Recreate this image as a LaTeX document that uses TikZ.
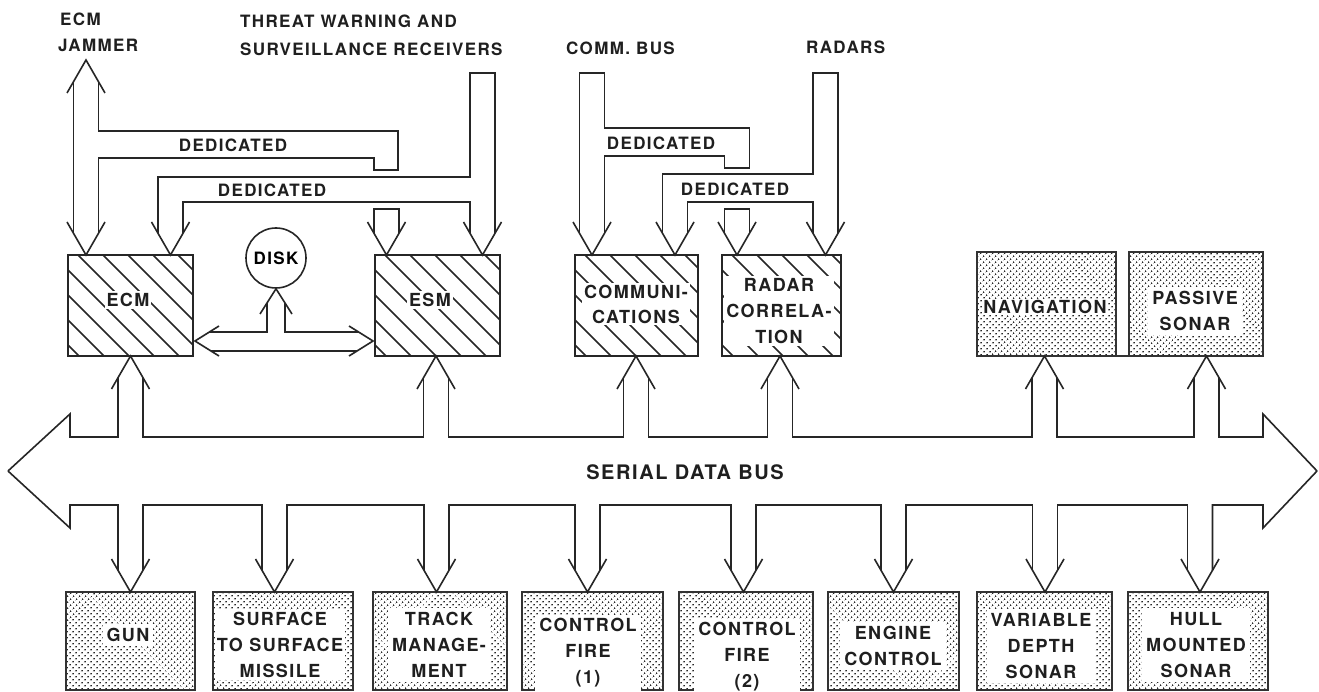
\documentclass[tikz,border=0pt]{standalone}
\usepackage{fontspec}
\usetikzlibrary{patterns.meta,calc}
\newfontfamily\heros[LetterSpace=8]{TeX Gyre Heros}
\newcommand\lf{\heros\bfseries\fontsize{17}{26}\selectfont}
\newcommand\lfbox{\heros\bfseries\fontsize{18}{26}\selectfont}
\newcommand\lfbig{\heros\bfseries\fontsize{20}{24}\selectfont}

% open V arrow heads (barb half-width 19, depth 33)
\newcommand\headup[2]{\draw[wire] ({#1-19},{#2+33}) -- (#1,#2) -- ({#1+19},{#2+33});}
\newcommand\headdown[2]{\draw[wire] ({#1-19},{#2-33}) -- (#1,#2) -- ({#1+19},{#2-33});}
% box node from corner coordinates
\newcommand\boxnode[6]{\node[#2, minimum width={(#5-#3)*1pt}, minimum height={(#6-#4)*1pt}] (#1) at ({(#3+#5)/2},{(#4+#6)/2}) {};}
% diagonal hatching inside a box
\newcommand\hatch[1]{%
  \begin{scope}
    \clip (#1.south west) rectangle (#1.north east);
    \foreach \k in {-6,...,6}{\draw[line width=1.6pt, black!85] ($(#1.north west)+(\k*25,-10)$) -- ++(170,170);}
  \end{scope}
  \draw[line width=1.8pt, black!85] (#1.south west) rectangle (#1.north east);}

\tikzset{
  wire/.style={line width=1.6pt, draw=black!85, line join=miter},
  hbox/.style={draw=black!85, line width=1.8pt, inner sep=0pt, outer sep=0pt, fill=white},
  dbox/.style={draw=black!80, line width=2.2pt, inner sep=0pt, outer sep=0pt,
    pattern={Dots[distance=4pt,radius=0.95pt,angle=45]}, pattern color=black!85},
  lbl/.style={font=\lf, text=black!88, align=center, inner sep=2pt},
  hlbl/.style={lbl, font=\lfbox, fill=white, inner sep=2pt},
  dlbl/.style={lbl, font=\lfbox, fill=white, inner sep=4pt},
  toplbl/.style={lbl, anchor=base west, inner sep=0pt},
}

\begin{document}
\begin{tikzpicture}[x=1pt,y=-1pt]
\fill[white] (0,0) rectangle (1319,692);
\useasboundingbox (0,0) rectangle (1319,692);

% ---------- top labels ----------
\node[toplbl] (lecm) at (60,26) {ECM};
\node[toplbl] (ljam) at (58,52) {JAMMER};
\node[toplbl] (lthr) at (240,28) {THREAT WARNING AND};
\node[toplbl] (lsur) at (240,56) {SURVEILLANCE RECEIVERS};
\node[toplbl] (lcom) at (566,55) {COMM. BUS};
\node[toplbl] (lrad) at (806,54) {RADARS};

% ---------- hatched processors ----------
\boxnode{ecm}{hbox}{68}{255}{193}{356}
\boxnode{esm}{hbox}{375}{255}{500}{356}
\boxnode{comm}{hbox}{575}{255}{698}{356}
\boxnode{radar}{hbox}{722}{255}{841}{356}
\hatch{ecm}\hatch{esm}\hatch{comm}\hatch{radar}
\node[hlbl] at (128,300) {ECM};
\node[hlbl] at (430,300) {ESM};
\node[hlbl, font=\heros\bfseries\fontsize{18}{25}\selectfont] at (636,304) {COMMUNI-\\CATIONS};
\node[hlbl] at (779,311) {RADAR\\CORRELA-\\TION};

% ---------- stippled units ----------
\boxnode{nav}{dbox}{977}{252}{1116}{356}
\boxnode{psonar}{dbox}{1129}{252}{1263}{356}
\draw[line width=2.2pt, black!80] (nav.south east) -- (psonar.south west);
\node[dlbl, inner sep=1pt] at (1045,307) {NAVIGATION};
\node[dlbl] at (1195,311) {PASSIVE\\SONAR};

\boxnode{gun}{dbox}{66}{592}{195}{690}
\boxnode{ssm}{dbox}{213}{592}{353}{690}
\boxnode{track}{dbox}{373}{592}{507}{690}
\boxnode{cf1}{dbox}{522}{592}{663}{690}
\boxnode{cf2}{dbox}{679}{592}{813}{690}
\boxnode{eng}{dbox}{828}{592}{959}{690}
\boxnode{vds}{dbox}{977}{592}{1112}{690}
\boxnode{hull}{dbox}{1128}{592}{1268}{690}
\node[dlbl] at (128,635) {GUN};
\node[dlbl, inner sep=2pt] at (280,645) {SURFACE\\TO SURFACE\\MISSILE};
\node[dlbl] at (439,645) {TRACK\\MANAGE-\\MENT};
\node[dlbl] at (588,653) {CONTROL\\FIRE\\(1)};
\node[dlbl] at (747,657) {CONTROL\\FIRE\\(2)};
\node[dlbl] at (893,646) {ENGINE\\CONTROL};
\node[dlbl] at (1041,646) {VARIABLE\\DEPTH\\SONAR};
\node[dlbl] at (1196,645) {HULL\\MOUNTED\\SONAR};

% ---------- disk and its links ----------
\node[circle, draw=black!85, line width=1.6pt, minimum size=60pt, inner sep=0pt, fill=white, font=\lf] (disk) at (276,258) {DISK};
\draw[wire] (260,314) -- (disk.south) -- (292,314);
\draw[wire] (219,326) -- (195,341) -- (219,356);
\draw[wire] (349,326) -- (373,341) -- (349,356);
\draw[wire] (267,302.6) -- (267,332) -- (209.4,332);
\draw[wire] (285,302.6) -- (285,332) -- (358.6,332);
\draw[wire] (211,351) -- (357,351);

% ---------- ECM jammer and dedicated links (left group) ----------
\headup{86}{60}
\headdown{86}{255}
\draw[wire] (73.5,81.7) -- (73.5,233.3);
\draw[wire] (98.5,81.7) -- (98.5,131) -- (398,131) -- (398,170) -- (374,170) -- (374,158) -- (98.5,158) -- (98.5,233.3);
\node[lbl] at (233,145) {DEDICATED};
\headdown{170.5}{255}
\headdown{482.5}{255}
\draw[wire] (158,233.3) -- (158,177) -- (470,177) -- (470,73) -- (495,73) -- (495,233.3);
\draw[wire] (183,233.3) -- (183,202) -- (470,202) -- (470,233.3);
\node[lbl] at (272,190) {DEDICATED};
\headdown{386.5}{255}
\draw[wire] (374,233.3) -- (374,209) -- (399,209) -- (399,233.3);

% ---------- comm bus, radars and dedicated links (right group) ----------
\headdown{592}{255}
\draw[wire] (579.5,233.3) -- (579.5,73) -- (604.5,73) -- (604.5,128) -- (749.5,128) -- (749.5,168) -- (724.5,168) -- (724.5,156) -- (604.5,156) -- (604.5,233.3);
\node[lbl] at (661,143) {DEDICATED};
\headdown{675}{255}
\headdown{825.5}{255}
\draw[wire] (662.5,233.3) -- (662.5,174) -- (813,174) -- (813,73) -- (838,73) -- (838,233.3);
\draw[wire] (687.5,233.3) -- (687.5,202) -- (813,202) -- (813,233.3);
\node[lbl] at (735,189) {DEDICATED};
\headdown{737}{255}
\draw[wire] (724.5,233.3) -- (724.5,209) -- (749.5,209) -- (749.5,233.3);

% ---------- serial data bus ----------
\draw[wire] (8,471) -- (70,414) -- (70,437) -- (118,437) -- (118,377.7);
\draw[wire] (143,377.7) -- (143,437) -- (423.5,437) -- (423.5,377.7);
\draw[wire] (448.5,377.7) -- (448.5,437) -- (623.5,437) -- (623.5,377.7);
\draw[wire] (648.5,377.7) -- (648.5,437) -- (767.5,437) -- (767.5,377.7);
\draw[wire] (792.5,377.7) -- (792.5,437) -- (1032,437) -- (1032,377.7);
\draw[wire] (1057,377.7) -- (1057,437) -- (1194,437) -- (1194,377.7);
\draw[wire] (1219,377.7) -- (1219,437) -- (1263,437) -- (1263,414) -- (1317,471);
\foreach \c in {130.5,436,636,780,1044.5,1206.5}{\headup{\c}{356}}

\draw[wire] (8,471) -- (70,528) -- (70,505) -- (118,505) -- (118,570.3);
\draw[wire] (143,570.3) -- (143,505) -- (262,505) -- (262,570.3);
\draw[wire] (287,570.3) -- (287,505) -- (424,505) -- (424,570.3);
\draw[wire] (449,570.3) -- (449,505) -- (575,505) -- (575,570.3);
\draw[wire] (600,570.3) -- (600,505) -- (731,505) -- (731,570.3);
\draw[wire] (756,570.3) -- (756,505) -- (881,505) -- (881,570.3);
\draw[wire] (906,570.3) -- (906,505) -- (1032.5,505) -- (1032.5,570.3);
\draw[wire] (1057.5,570.3) -- (1057.5,505) -- (1187.5,505) -- (1187.5,570.3);
\draw[wire] (1212.5,570.3) -- (1212.5,505) -- (1263,505) -- (1263,528) -- (1317,471);
\foreach \c in {130.5,274.5,436.5,587.5,743.5,893.5,1045,1200}{\headdown{\c}{592}}

\node[lbl, font=\lfbig] (sdb) at (685,472) {SERIAL DATA BUS};
\end{tikzpicture}
\end{document}
